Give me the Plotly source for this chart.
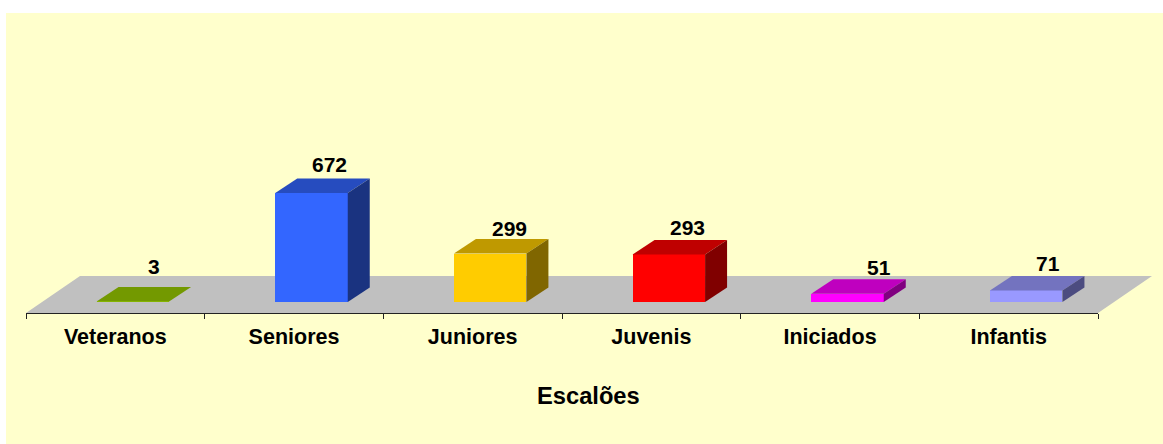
import plotly.graph_objects as go

# Data
categories = ["Veteranos", "Seniores", "Juniores", "Juvenis", "Iniciados", "Infantis"]
values = [3, 672, 299, 293, 51, 71]
colors = ["#99CC00", "#3366FF", "#FFCC00", "#FF0000", "#FF00FF", "#9999FF"]
axis_title = "Escalões"

# Page geometry (pixels)
W, H = 1163, 444
PANEL_L, PANEL_T = 6, 13
AX_L, AX_R, AX_Y, BASE_Y = 26, 1098, 313, 302
PX_X = (AX_R - AX_L) / len(categories)
PX_Y = 109 / 672  # px per value unit
TITLE_X, TITLE_Y = 588, 396

# Perspective constants (pixels)
BAR_W, BAR_SHIFT, DEPTH_X, DEPTH_Y = 72.5, 17.5, 22, 14.5
FLOOR_X, FLOOR_Y = 54, 37
# label nudges relative to the back edge of each bar's top
NUDGE_X = [-0.5, -4.5, -2.5, -3.5, 9.5, -0.5]
NUDGE_Y = [21, 14, 11, 12, 12, 12]


def shade(hex_color, k):
    r, g, b = (int(hex_color[i:i + 2], 16) for i in (1, 3, 5))
    return f"rgb({round(r * k)},{round(g * k)},{round(b * k)})"


x_rng = [(PANEL_L - AX_L) / PX_X, (W - AX_L) / PX_X]
y_rng = [(BASE_Y - H) / PX_Y, (BASE_Y - PANEL_T) / PX_Y]
bw, shift = BAR_W / PX_X, BAR_SHIFT / PX_X
dx, dy = DEPTH_X / PX_X, DEPTH_Y / PX_Y
fx, fy = FLOOR_X / PX_X, FLOOR_Y / PX_Y
y_front = (BASE_Y - AX_Y) / PX_Y
n = len(categories)

fig = go.Figure()
centers = [i + 0.5 + shift for i in range(n)]

fig.add_trace(go.Bar(x=centers, y=values, width=bw,
                     marker=dict(color=colors, line=dict(width=0)),
                     showlegend=False, hoverinfo="skip"))

for c, v, col in zip(centers, values, colors):
    l, r = c - bw / 2, c + bw / 2
    fig.add_trace(go.Scatter(x=[l, r, r + dx, l + dx, l], y=[v, v, v + dy, v + dy, v],
                             mode="lines", fill="toself", fillcolor=shade(col, 0.75),
                             line=dict(width=0), showlegend=False, hoverinfo="skip"))
    fig.add_trace(go.Scatter(x=[r, r + dx, r + dx, r, r], y=[0, dy, v + dy, v, 0],
                             mode="lines", fill="toself", fillcolor=shade(col, 0.5),
                             line=dict(width=0), showlegend=False, hoverinfo="skip"))

# Category axis carried by an empty second subplot
fig.add_trace(go.Bar(x=categories, y=[None] * n, xaxis="x2", yaxis="y2",
                     showlegend=False, hoverinfo="skip"))

font = dict(family="Liberation Sans", color="black", weight=700)

annotations = []
for c, v, nx, ny in zip(centers, values, NUDGE_X, NUDGE_Y):
    annotations.append(dict(x=c + dx, y=v + dy, xref="x", yref="y", text=str(v),
                            showarrow=False, xshift=nx, yshift=ny,
                            font=dict(size=21, **font)))
annotations.append(dict(x=TITLE_X / W, y=1 - TITLE_Y / H, xref="paper", yref="paper",
                        text=axis_title, showarrow=False, xanchor="center", yanchor="middle",
                        font=dict(size=23.7, **font)))

fig.update_layout(
    width=W, height=H, margin=dict(l=0, r=0, t=0, b=0),
    paper_bgcolor="white", plot_bgcolor="rgba(0,0,0,0)", showlegend=False, bargap=0,
    xaxis=dict(domain=[PANEL_L / W, 1], range=x_rng, visible=False, fixedrange=True),
    yaxis=dict(domain=[0, 1 - PANEL_T / H], range=y_rng, visible=False, fixedrange=True),
    xaxis2=dict(domain=[AX_L / W, AX_R / W], anchor="y2", type="category",
                categoryorder="array", categoryarray=categories, range=[-0.5, n - 0.5],
                tickson="boundaries", ticks="outside", ticklen=5, tickcolor="#222",
                showline=True, linecolor="#222", linewidth=1, showgrid=False,
                ticklabelstandoff=4,
                tickfont=dict(size=21.5, **font)),
    yaxis2=dict(domain=[(H - AX_Y) / H, (H - AX_Y + 5) / H], anchor="x2",
                visible=False, range=[0, 1], fixedrange=True),
    annotations=annotations,
    shapes=[
        dict(type="rect", xref="paper", yref="paper", x0=PANEL_L / W, x1=1, y0=0,
             y1=1 - PANEL_T / H, fillcolor="#FFFFCC", line=dict(width=0), layer="below"),
        dict(type="path", xref="x", yref="y", layer="below", fillcolor="#C0C0C0",
             line=dict(width=0),
             path=f"M 0 {y_front} L {n} {y_front} L {n + fx} {y_front + fy} "
                  f"L {fx} {y_front + fy} Z"),
    ],
)

fig.write_html("out.html", config={"displayModeBar": False},
               post_script="document.body.style.margin='0';window.dispatchEvent(new Event('resize'));")
